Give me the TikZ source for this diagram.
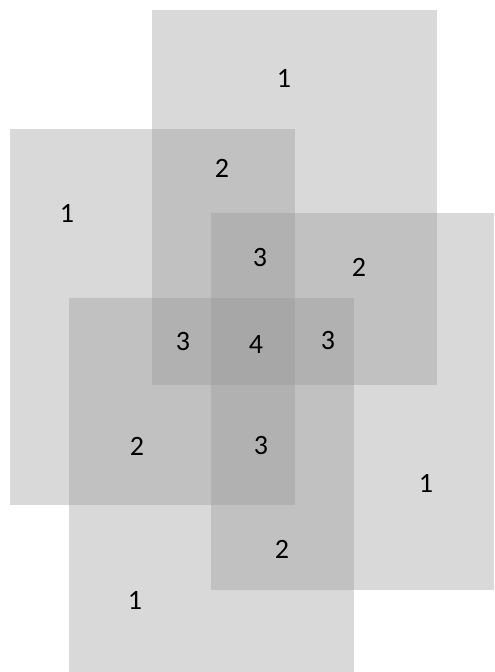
\documentclass[tikz,border=0pt]{standalone}
\usepackage{fontspec}
\setmainfont{Carlito}
\begin{document}
\begin{tikzpicture}[
  x=1pt,y=1pt,
  sheet/.style={fill=black!41,fill opacity=0.36},
  count/.style={inner sep=0pt,font=\fontsize{28}{33}\selectfont}
]
  \useasboundingbox (0,0) rectangle (495,672);

  % four overlapping sheets
  \fill[sheet] (152,662) rectangle (437,287);
  \fill[sheet] (10,543) rectangle (295,167);
  \fill[sheet] (211,459) rectangle (494,82);
  \fill[sheet] (69,374) rectangle (354,0);

  % overlap counts
  \node[count] (topA) at (284,594) {1};
  \node[count] (ab) at (222,504) {2};
  \node[count] (leftB) at (67,459) {1};
  \node[count] (abc) at (260,414) {3};
  \node[count] (ac) at (359,405) {2};
  \node[count] (abd) at (183,330) {3};
  \node[count] (abcd) at (256,327) {4};
  \node[count] (acd) at (328,331) {3};
  \node[count] (bd) at (137,226) {2};
  \node[count] (bcd) at (261,226) {3};
  \node[count] (rightC) at (426,189) {1};
  \node[count] (cd) at (282,123) {2};
  \node[count] (bottomD) at (135,72) {1};
\end{tikzpicture}
\end{document}
